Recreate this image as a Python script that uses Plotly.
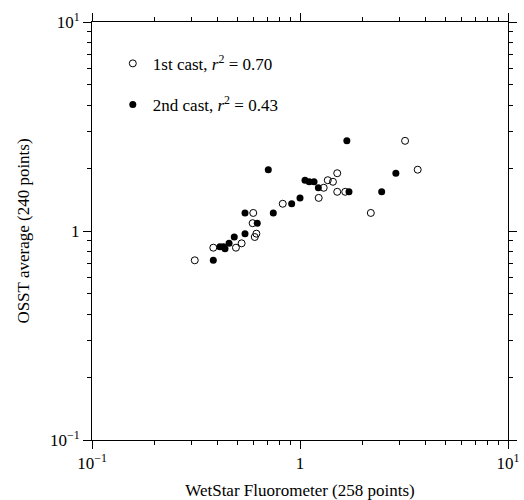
import plotly.graph_objects as go

# 1st cast (open circles)
cast1_x = [3.20, 3.68, 1.51, 1.36, 1.44, 1.30, 1.51, 1.65, 1.23, 0.826, 2.19, 0.596,
           0.592, 0.617, 0.606, 0.524, 0.492, 0.383, 0.312]
cast1_y = [2.70, 1.965, 1.89, 1.75, 1.72, 1.61, 1.54, 1.54, 1.44, 1.35, 1.22, 1.22,
           1.09, 0.971, 0.936, 0.873, 0.832, 0.832, 0.724]

# 2nd cast (filled circles)
cast2_x = [1.68, 0.704, 1.057, 1.108, 1.168, 1.225, 1.72, 2.47, 2.89, 1.0, 0.912, 0.744,
           0.544, 0.623, 0.544, 0.483, 0.456, 0.412, 0.428, 0.436, 0.383]
cast2_y = [2.70, 1.965, 1.75, 1.72, 1.72, 1.61, 1.54, 1.54, 1.89, 1.44, 1.35, 1.22,
           1.22, 1.09, 0.971, 0.936, 0.873, 0.841, 0.841, 0.823, 0.724]

major_vals = [0.1, 1, 10]
major_text = ["10<sup>\u22121</sup>", "1", "10<sup>1</sup>"]
minor_vals = [0.2, 0.3, 0.4, 0.5, 0.6, 0.7, 0.8, 0.9, 2, 3, 4, 5, 6, 7, 8, 9]

FONT = "Liberation Serif"

fig = go.Figure()
fig.add_trace(go.Scatter(
    x=cast1_x, y=cast1_y, mode="markers",
    name="1st cast, <i>r</i><sup>2</sup> = 0.70", legendgroup="a",
    marker=dict(symbol="circle-open", size=7, color="black", line=dict(width=1, color="black")),
))
fig.add_trace(go.Scatter(
    x=cast2_x, y=cast2_y, mode="markers",
    name="2nd cast, <i>r</i><sup>2</sup> = 0.43", legendgroup="b",
    marker=dict(symbol="circle", size=7, color="black"),
))

axis_common = dict(
    type="log", showgrid=False, zeroline=False, automargin=False,
    showline=True, linecolor="black", linewidth=1, mirror="ticks",
    ticks="outside", ticklen=8, tickwidth=1, tickcolor="black",
    tickvals=major_vals, ticktext=major_text,
    range=[-1, 1],
    minor=dict(ticks="outside", ticklen=4, tickwidth=1, tickcolor="black", tickvals=minor_vals, showgrid=False),
    tickfont=dict(family=FONT, size=17, color="black"),
)

fig.update_xaxes(**axis_common,
                 title=dict(text="WetStar Fluorometer (258 points)", font=dict(family=FONT, size=17, color="black")))
fig.update_yaxes(**axis_common, ticklabelstandoff=0,
                 title=dict(text="OSST average (240 points)", font=dict(family=FONT, size=17, color="black")))

fig.update_layout(
    width=524, height=500,
    margin=dict(l=92, r=16, t=22, b=60),
    plot_bgcolor="white", paper_bgcolor="white",
    font=dict(family=FONT, size=17, color="black"),
    legend=dict(x=0.05, y=0.943, xanchor="left", yanchor="top",
                bgcolor="rgba(0,0,0,0)", traceorder="grouped", tracegroupgap=16,
                font=dict(family=FONT, size=17, color="black"), itemsizing="trace"),
    showlegend=True,
)

fig.write_html("out.html", config={"displayModeBar": False},
               post_script="document.body.style.margin='0';document.body.style.overflow='hidden';")
